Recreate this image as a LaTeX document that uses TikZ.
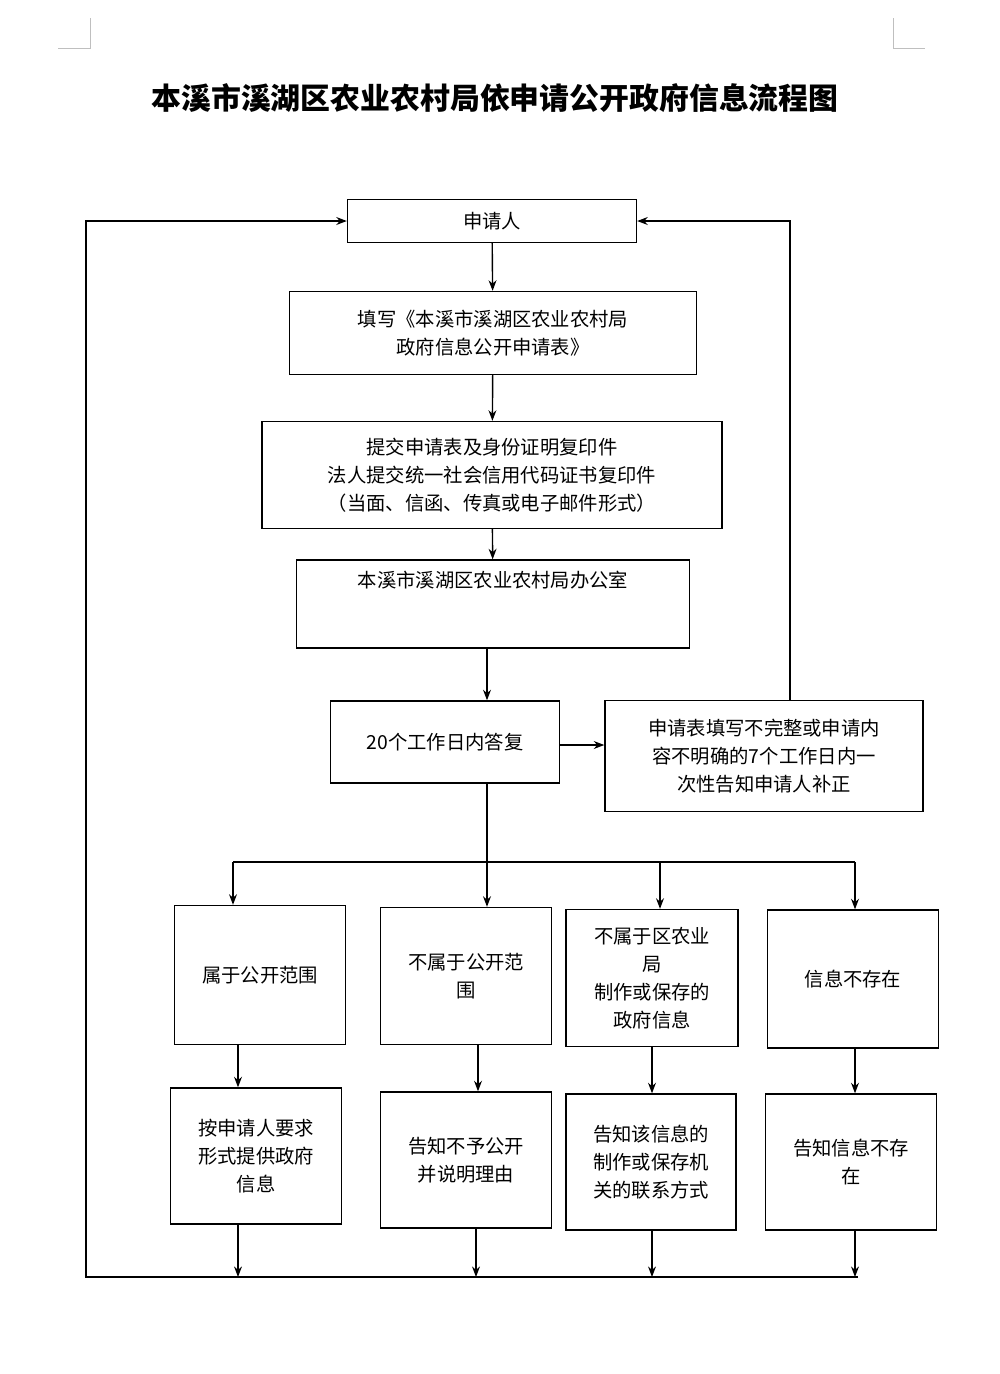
\documentclass[tikz,border=0pt]{standalone}
\usepackage{fontspec}
\setmainfont{Noto Sans CJK SC}
\usetikzlibrary{arrows.meta}
\tikzset{
  box/.style={draw,thick,align=center,inner sep=2pt,font=\fontsize{11}{16}\selectfont},
  arr/.style={thick,-{Stealth[length=6pt]}},
  ln/.style={thick}
}
\begin{document}
\begin{tikzpicture}[x=0.02cm,y=-0.02cm]
        % Page frame
        \useasboundingbox (0,0) rectangle (1000,1374);
        \draw[gray!50] (90,18) -- (90,48) -- (58,48);
        \draw[gray!50] (893,18) -- (893,48) -- (925,48);
        % Title
        \node (title) at (495,98) {\fontsize{17}{22}\selectfont\bfseries 本溪市溪湖区农业农村局依申请公开政府信息流程图};
        % Main column
        \node[box,minimum width=5.78cm,minimum height=0.86cm] (apply) at (492,221) {申请人};
        \node[box,minimum width=8.14cm,minimum height=1.66cm] (form) at (493,333) {填写《本溪市溪湖区农业农村局\\政府信息公开申请表》};
        \node[box,minimum width=9.2cm,minimum height=2.14cm] (submit) at (492,475) {提交申请表及身份证明复印件\\法人提交统一社会信用代码证书复印件\\（当面、信函、传真或电子邮件形式）};
        \node[box,minimum width=7.86cm,minimum height=1.76cm,text depth=1cm] (office) at (493,604) {本溪市溪湖区农业农村局办公室};
        \node[box,minimum width=4.58cm,minimum height=1.64cm] (reply) at (445,742) {20个工作日内答复};
        \node[box,minimum width=6.36cm,minimum height=2.22cm] (fix) at (764,756) {申请表填写不完整或申请内\\容不明确的7个工作日内一\\次性告知申请人补正};
        % Branch boxes
        \node[box,minimum width=3.42cm,minimum height=2.78cm] (b1) at (260,975) {属于公开范围};
        \node[box,minimum width=3.42cm,minimum height=2.74cm] (b2) at (466,976) {不属于公开范\\围};
        \node[box,minimum width=3.44cm,minimum height=2.74cm] (b3) at (652,978) {不属于区农业\\局\\制作或保存的\\政府信息};
        \node[box,minimum width=3.42cm,minimum height=2.76cm] (b4) at (853,979) {信息不存在};
        \node[box,minimum width=3.42cm,minimum height=2.72cm] (c1) at (256,1156) {按申请人要求\\形式提供政府\\信息};
        \node[box,minimum width=3.42cm,minimum height=2.72cm] (c2) at (466,1160) {告知不予公开\\并说明理由};
        \node[box,minimum width=3.4cm,minimum height=2.72cm] (c3) at (651,1162) {告知该信息的\\制作或保存机\\关的联系方式};
        \node[box,minimum width=3.42cm,minimum height=2.72cm] (c4) at (851,1162) {告知信息不存\\在};
        % Helper coordinates
        \coordinate (split) at (487,862);
        \coordinate (sl) at (233,862);
        \coordinate (sr) at (855,862);
        \coordinate (bl) at (86,1277);
        \coordinate (br) at (858,1277);
        \coordinate (mid) at (487,0);
        \coordinate (side) at (0,745);
        % Connectors
        \draw[arr] (apply) -- (form);
        \draw[arr] (form) -- (submit);
        \draw[arr] (submit) -- (office);
        \draw[arr] (office.south -| mid) -- (reply.north -| mid);
        \draw[arr] (reply.east |- side) -- (fix.west |- side);
        \draw[arr] (fix.north -| 790,0) |- (apply.east);
        \draw[ln] (reply.south -| split) -- (split);
        \draw[ln] (sl) -- (sr);
        \draw[arr] (sl) -- (sl |- b1.north);
        \draw[arr] (split) -- (split |- b2.north);
        \draw[arr] (split -| 660,0) -- (660,0 |- b3.north);
        \draw[arr] (sr) -- (sr |- b4.north);
        \draw[arr] (b1.south -| 238,0) -- (238,0 |- c1.north);
        \draw[arr] (b2.south -| 478,0) -- (478,0 |- c2.north);
        \draw[arr] (b3.south -| 652,0) -- (652,0 |- c3.north);
        \draw[arr] (b4.south -| 855,0) -- (855,0 |- c4.north);
        \draw[arr] (c1.south -| 238,0) -- (238,0 |- bl);
        \draw[arr] (c2.south -| 476,0) -- (476,0 |- bl);
        \draw[arr] (c3.south -| 652,0) -- (652,0 |- bl);
        \draw[arr] (c4.south -| 855,0) -- (855,0 |- bl);
        \draw[arr] (br) -- (bl) |- (apply.west);
\end{tikzpicture}
\end{document}
